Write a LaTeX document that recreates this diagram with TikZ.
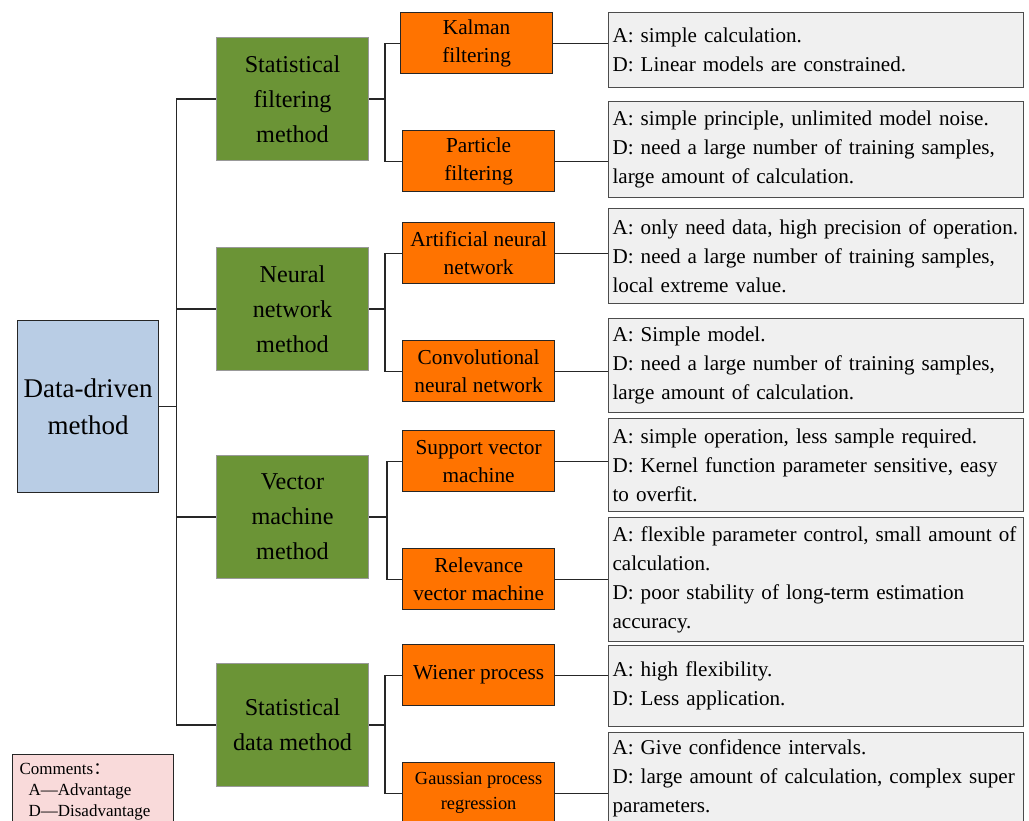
\documentclass[tikz,border=0pt]{standalone}
\usepackage{fontspec}
\setmainfont{Liberation Serif}
\newfontfamily\cjkfont{Noto Sans CJK SC}
\usetikzlibrary{positioning}
\definecolor{ink}     {HTML}{262626}
\definecolor{rootblue}{HTML}{B9CDE5}
\definecolor{olive}   {HTML}{6B9436}
\definecolor{orng}    {HTML}{FF7300}
\definecolor{paper}   {HTML}{F0F0F0}
\definecolor{memopink}{HTML}{F9DADA}
\tikzset{
  base/.style     = {draw=ink, line width=1.2pt, inner sep=0pt,
                     align=center, anchor=north west},
  rootbox/.style  = {base, fill=rootblue, minimum width=141, minimum height=172,
                     font=\fontsize{27}{37}\selectfont},
  method/.style   = {base, draw=black!40, line width=1pt, fill=olive,
                     minimum width=152, minimum height=123,
                     font=\fontsize{24.2}{35}\selectfont},
  leaf/.style     = {base, fill=orng, minimum width=152, minimum height=61,
                     font=\fontsize{21.3}{28}\selectfont},
  note/.style     = {base, draw=black!70, fill=paper, text width=407,
                     inner xsep=4pt, align=left,
                     font=\fontsize{21.1}{29}\selectfont},
  memo/.style     = {base, fill=memopink, text width=147, inner xsep=7pt,
                     inner ysep=9pt, align=left,
                     font=\fontsize{17}{21}\selectfont},
  link/.style     = {line width=1.1pt, ink},
}
\begin{document}
\begin{tikzpicture}[x=1pt, y=-1pt]

  \useasboundingbox (0,0) rectangle (1029,820);
  \clip (0,0) rectangle (1029,820);

  % --- root ---
  \node[rootbox] (root) at (17,320) {Data-driven\\method};

  % --- methods ---
  \node[method] (sfm) at (216,37)  {Statistical\\filtering\\method};
  \node[method] (nnm) at (216,247) {Neural\\network\\method};
  \node[method] (vmm) at (216,455) {Vector\\machine\\method};
  \node[method] (sdm) at (216,663) {Statistical\\data method};

  % --- algorithms ---
  \node[leaf] (kal) at (400,12)  {Kalman\\filtering};
  \node[leaf] (pf)  at (402,130) {Particle\\filtering};
  \node[leaf] (ann) at (402,222) {Artificial neural\\network};
  \node[leaf] (cnn) at (402,340) {Convolutional\\neural network};
  \node[leaf] (svm) at (402,430) {Support vector\\machine};
  \node[leaf] (rvm) at (402,548) {Relevance\\vector machine};
  \node[leaf] (wp)  at (402,644) {Wiener process};
  \node[leaf, font=\fontsize{18.4}{25}\selectfont] (gpr) at (402,762)
        {Gaussian process\\regression};

  % --- pros and cons ---
  \node[note, minimum height=75] (n1) at (608,12)
        {A: simple calculation.\\D: Linear models are constrained.};
  \node[note, minimum height=96] (n2) at (608,101)
        {A: simple principle, unlimited model noise.\\D: need a large number of training samples,\\large amount of calculation.};
  \node[note, minimum height=95] (n3) at (608,208)
        {A: only need data, high precision of operation.\\D: need a large number of training samples,\\local extreme value.};
  \node[note, minimum height=94] (n4) at (608,318)
        {A: Simple model.\\D: need a large number of training samples,\\large amount of calculation.};
  \node[note, minimum height=93] (n5) at (608,418)
        {A: simple operation, less sample required.\\D: Kernel function parameter sensitive, easy\\to overfit.};
  \node[note, minimum height=124] (n6) at (608,517)
        {A: flexible parameter control, small amount of\\calculation.\\D: poor stability of long-term estimation\\accuracy.};
  \node[note, minimum height=81] (n7) at (608,645)
        {A: high flexibility.\\D: Less application.};
  \node[note, minimum height=92] (n8) at (608,732)
        {A: Give confidence intervals.\\D: large amount of calculation, complex super\\parameters.};

  % --- legend ---
  \node[memo] (cmt) at (12,754)
        {Comments{\cjkfont ：}\\\hspace{9pt}A—Advantage\\\hspace{9pt}D—Disadvantage};

  % --- root to methods ---
  \draw[link] (root.east) -- ++(17,0) |- (sfm.west);
  \draw[link] (root.east) -- ++(17,0) |- (nnm.west);
  \draw[link] (root.east) -- ++(17,0) |- (vmm.west);
  \draw[link] (root.east) -- ++(17,0) |- (sdm.west);

  % --- methods to algorithms ---
  \draw[link] (sfm.east) -- ++(16,0) |- (kal.west);
  \draw[link] (sfm.east) -- ++(16,0) |- (pf.west);
  \draw[link] (nnm.east) -- ++(16,0) |- (ann.west);
  \draw[link] (nnm.east) -- ++(16,0) |- (cnn.west);
  \draw[link] (vmm.east) -- ++(18,0) |- (svm.west);
  \draw[link] (vmm.east) -- ++(18,0) |- (rvm.west);
  \draw[link] (sdm.east) -- ++(16,0) |- (wp.west);
  \draw[link] (sdm.east) -- ++(16,0) |- (gpr.west);

  % --- algorithms to notes ---
  \draw[link] (kal.east) -- (kal.east -| n1.west);
  \draw[link] (pf.east)  -- (pf.east -| n2.west);
  \draw[link] (ann.east) -- (ann.east -| n3.west);
  \draw[link] (cnn.east) -- (cnn.east -| n4.west);
  \draw[link] (svm.east) -- (svm.east -| n5.west);
  \draw[link] (rvm.east) -- (rvm.east -| n6.west);
  \draw[link] (wp.east)  -- (wp.east -| n7.west);
  \draw[link] (gpr.east) -- (gpr.east -| n8.west);

\end{tikzpicture}
\end{document}
